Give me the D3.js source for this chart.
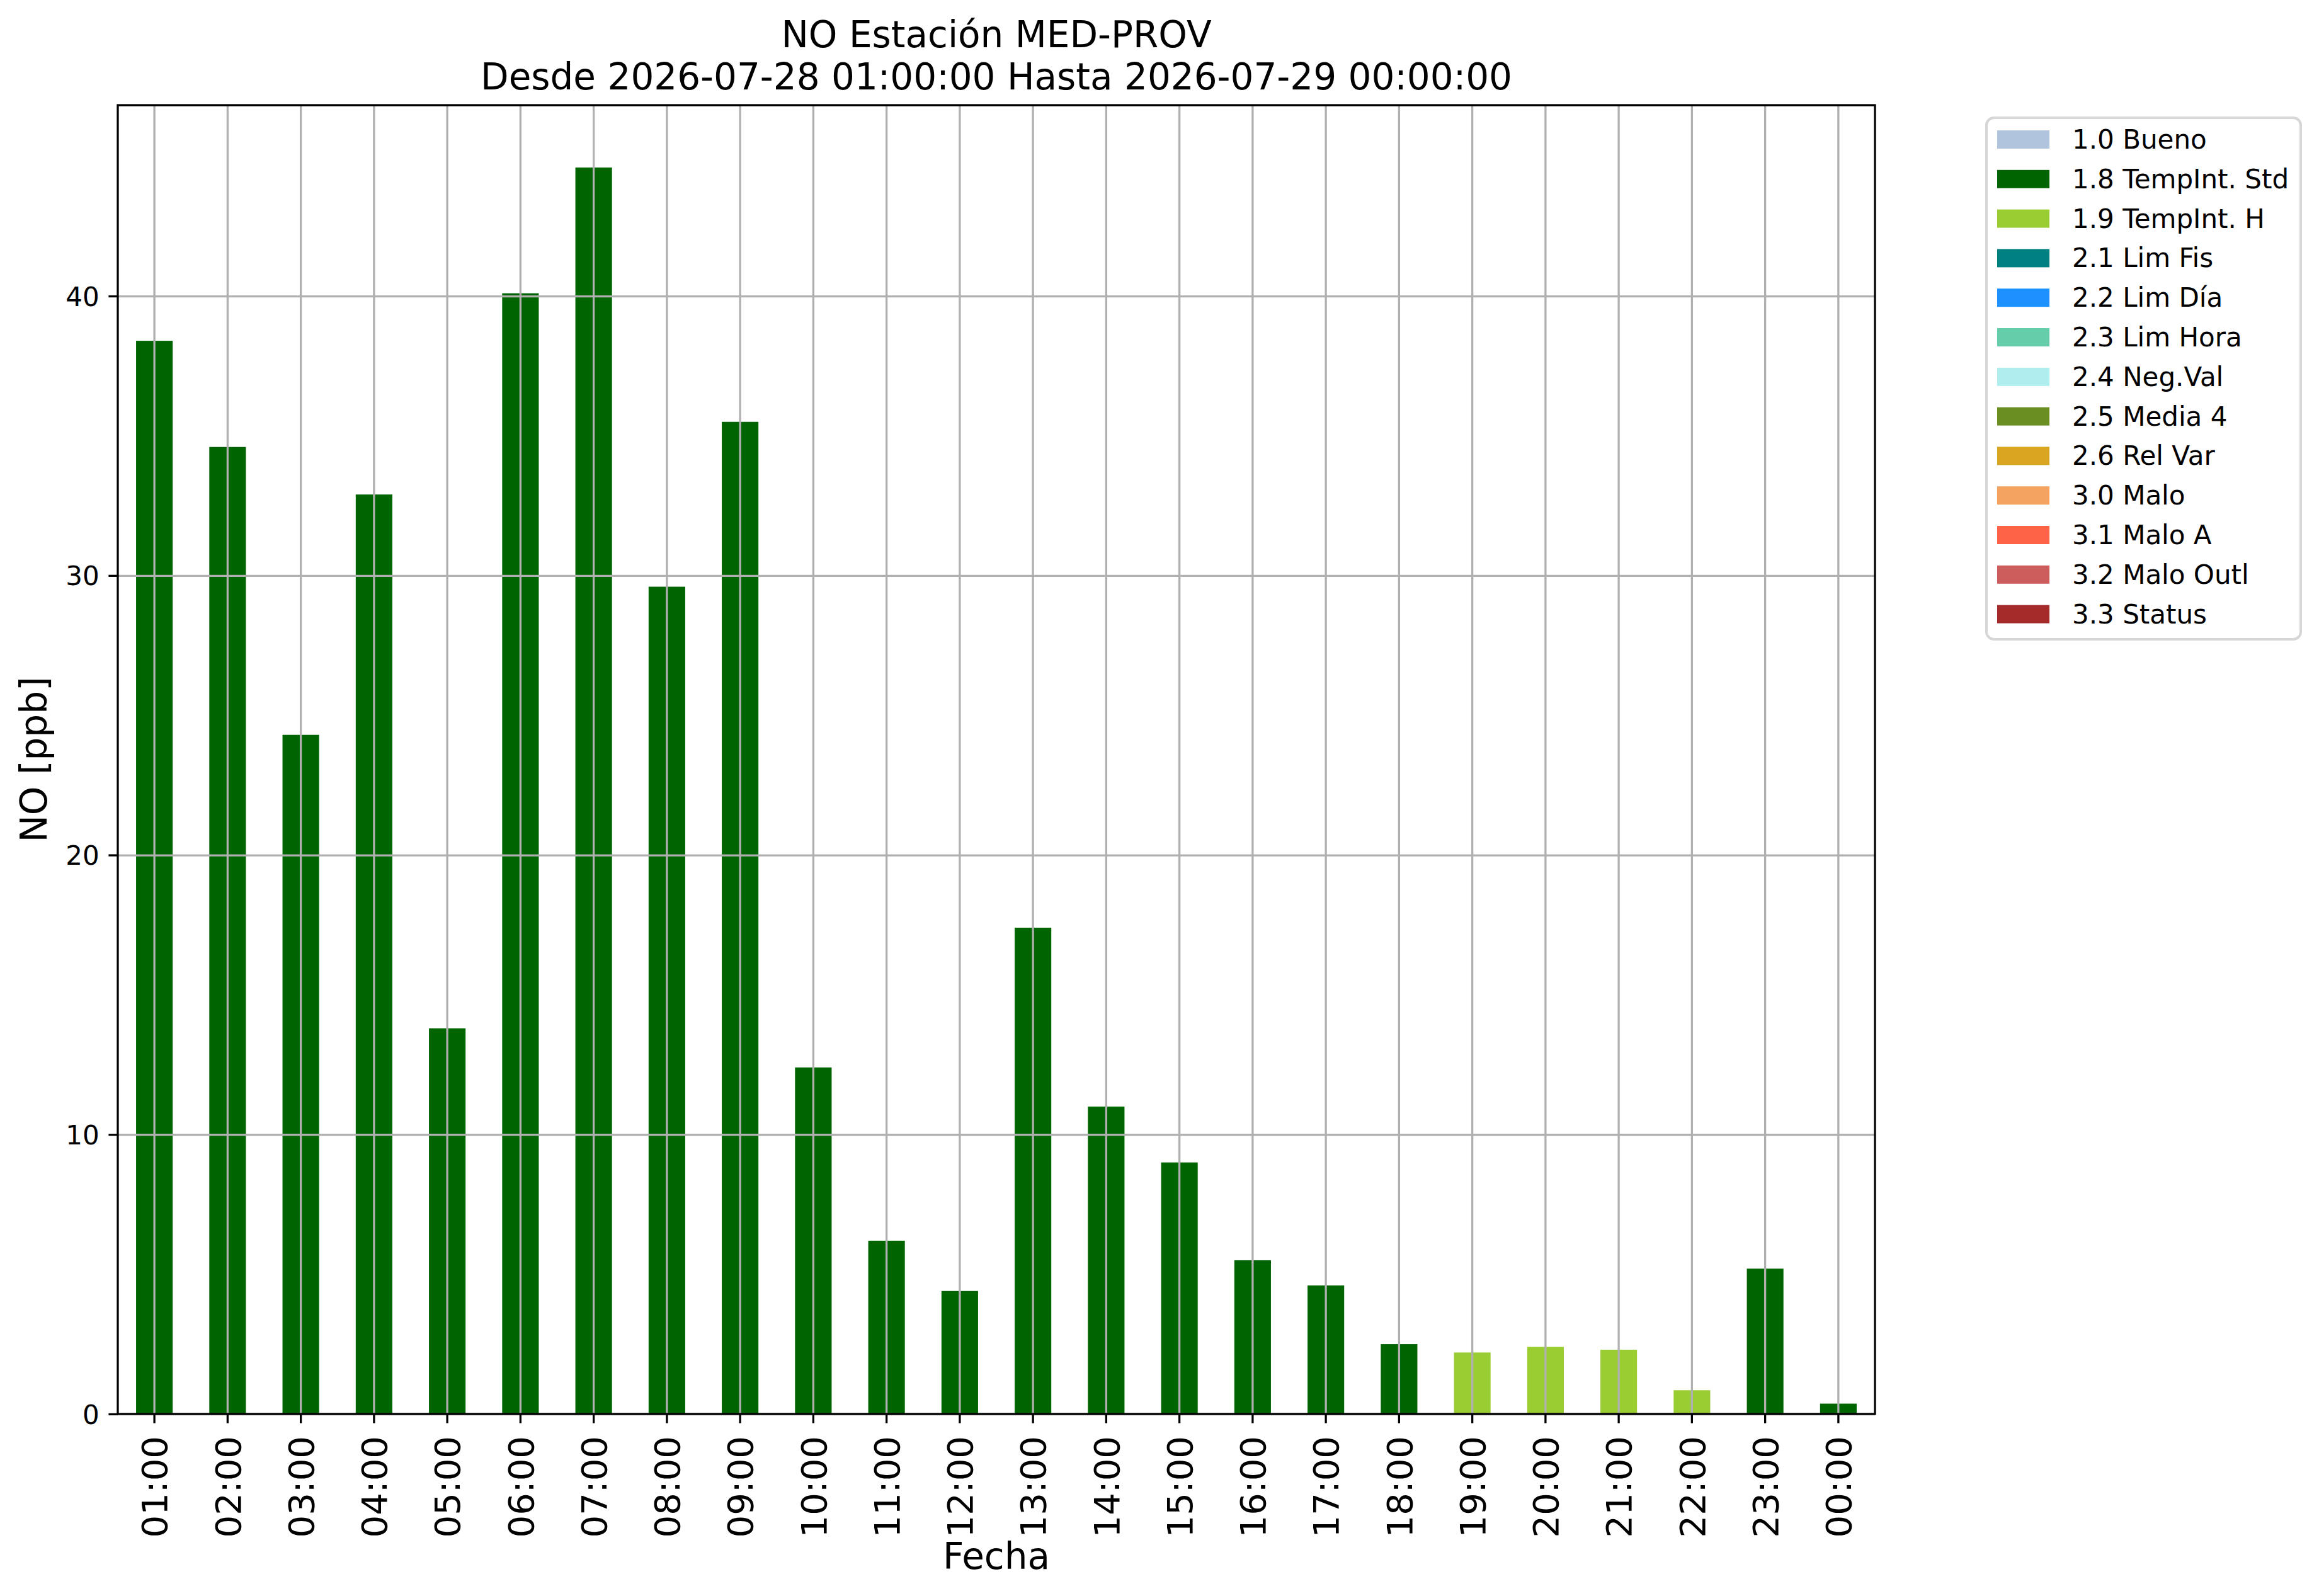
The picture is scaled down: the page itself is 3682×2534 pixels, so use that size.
<!DOCTYPE html>
<html>
<head>
<meta charset="utf-8">
<script src="https://cdn.jsdelivr.net/npm/d3@7"></script>
<style>
  body { margin: 0; background: #fff; }
  svg { display: block; font-family: "DejaVu Sans", sans-serif; }
</style>
</head>
<body>
<div id="svg-container"></div>
<script>
////////////////////////////////////////////////////////////////////
////////////////////////////  Data  ////////////////////////////////
const hours = ["01:00", "02:00", "03:00", "04:00", "05:00", "06:00", "07:00", "08:00",
  "09:00", "10:00", "11:00", "12:00", "13:00", "14:00", "15:00", "16:00",
  "17:00", "18:00", "19:00", "20:00", "21:00", "22:00", "23:00", "00:00"];

const values = [38.4, 34.6, 24.3, 32.9, 13.8, 40.1, 44.6, 29.6,
  35.5, 12.4, 6.2, 4.4, 17.4, 11.0, 9.0, 5.5,
  4.6, 2.5, 2.2, 2.4, 2.3, 0.85, 5.2, 0.37];

const flags = ["1.8", "1.8", "1.8", "1.8", "1.8", "1.8", "1.8", "1.8",
  "1.8", "1.8", "1.8", "1.8", "1.8", "1.8", "1.8", "1.8",
  "1.8", "1.8", "1.9", "1.9", "1.9", "1.9", "1.8", "1.8"];

const legendCodes = ["1.0", "1.8", "1.9", "2.1", "2.2", "2.3", "2.4", "2.5", "2.6", "3.0", "3.1", "3.2", "3.3"];
const legendNames = ["Bueno", "TempInt. Std", "TempInt. H", "Lim Fis", "Lim Día", "Lim Hora",
  "Neg.Val", "Media 4", "Rel Var", "Malo", "Malo A", "Malo Outl", "Status"];
const legendColors = ["lightsteelblue", "darkgreen", "yellowgreen", "teal", "dodgerblue",
  "mediumaquamarine", "paleturquoise", "olivedrab", "goldenrod", "sandybrown",
  "tomato", "indianred", "brown"];

const yTicks = [0, 10, 20, 30, 40];

////////////////////////////////////////////////////////////////////
////////////////////////////  Init  ////////////////////////////////
const width = 3682;
const height = 2534;
const margin = { top: 167, right: 705, bottom: 289, left: 187 };
const plotW = width - margin.left - margin.right;
const plotH = height - margin.top - margin.bottom;
const lw = 3.3;

const svg = d3.select("#svg-container").append("svg")
  .attr("width", width).attr("height", height);

svg.append("rect").attr("width", width).attr("height", height).attr("fill", "#fff");

const g = svg.append("g").attr("transform", `translate(${margin.left},${margin.top})`);

// scale
const xScale = d3.scaleBand()
  .domain(hours)
  .range([0, plotW])
  .paddingInner(0.5)
  .paddingOuter(0.25);

const yScale = d3.scaleLinear()
  .domain([0, d3.max(values) * 1.05])
  .range([plotH, 0]);

const colorScale = d3.scaleOrdinal().domain(legendCodes).range(legendColors);

////////////////////////////////////////////////////////////////////
////////////////////////////  Bars  ////////////////////////////////
const data = hours.map((h, i) => ({ hour: h, value: values[i], flag: flags[i] }));

g.selectAll(".bar")
  .data(data)
  .enter()
  .append("rect")
  .attr("class", "bar")
  .attr("x", (d) => xScale(d.hour))
  .attr("y", (d) => yScale(d.value))
  .attr("width", xScale.bandwidth())
  .attr("height", (d) => plotH - yScale(d.value))
  .attr("fill", (d) => colorScale(d.flag));

// grid (above bars, like matplotlib)
const xGrid = g.append("g")
  .call(d3.axisBottom(xScale).tickSize(plotH).tickFormat(""));
xGrid.selectAll(".tick line")
  .attr("y1", 0).attr("y2", plotH)
  .attr("stroke", "#b0b0b0").attr("stroke-width", lw);
xGrid.select(".domain").remove();

const yGrid = g.append("g")
  .call(d3.axisLeft(yScale).tickValues(yTicks).tickSize(-plotW).tickFormat(""));
yGrid.selectAll(".tick line").attr("stroke", "#b0b0b0").attr("stroke-width", lw);
yGrid.select(".domain").remove();

////////////////////////////////////////////////////////////////////
////////////////////////////  Axes  ////////////////////////////////
const yAxis = g.append("g")
  .call(d3.axisLeft(yScale).tickValues(yTicks).tickSize(14.6).tickPadding(14.6).tickFormat(d3.format("d")));
yAxis.select(".domain").remove();
yAxis.selectAll(".tick line").attr("stroke", "#000").attr("stroke-width", lw);
yAxis.selectAll(".tick text")
  .attr("font-size", 42)
  .attr("font-family", "DejaVu Sans")
  .attr("fill", "#000")
  .attr("dy", "0.36em");

const xAxis = g.append("g")
  .attr("transform", `translate(0,${plotH})`)
  .call(d3.axisBottom(xScale).tickSize(14.6));
xAxis.select(".domain").remove();
xAxis.selectAll(".tick line").attr("stroke", "#000").attr("stroke-width", lw);
xAxis.selectAll(".tick text")
  .attr("font-size", 56)
  .attr("font-family", "DejaVu Sans")
  .attr("fill", "#000")
  .attr("transform", "rotate(-90)")
  .attr("text-anchor", "end")
  .attr("x", -35)
  .attr("y", 0)
  .attr("dy", "0.36em");

// frame
g.append("rect")
  .attr("x", 0).attr("y", 0)
  .attr("width", plotW).attr("height", plotH)
  .attr("fill", "none")
  .attr("stroke", "#000")
  .attr("stroke-width", lw);

// labels
svg.append("text")
  .attr("x", margin.left + plotW / 2)
  .attr("y", 2491)
  .attr("text-anchor", "middle")
  .attr("font-size", 58)
  .text("Fecha");

svg.append("text")
  .attr("transform", `translate(74,${margin.top + plotH / 2}) rotate(-90)`)
  .attr("text-anchor", "middle")
  .attr("font-size", 58)
  .text("NO [ppb]");

const title = svg.append("text")
  .attr("text-anchor", "middle")
  .attr("font-size", 58);
title.append("tspan")
  .attr("x", margin.left + plotW / 2).attr("y", 75)
  .text("NO Estación MED-PROV");
title.append("tspan")
  .attr("x", margin.left + plotW / 2).attr("y", 142)
  .text("Desde 2026-07-28 01:00:00 Hasta 2026-07-29 00:00:00");

////////////////////////////////////////////////////////////////////
////////////////////////////  Legend  //////////////////////////////
const legend = svg.append("g").attr("transform", "translate(3154,187)");

legend.append("rect")
  .attr("x", 0).attr("y", 0)
  .attr("width", 499).attr("height", 828)
  .attr("rx", 12).attr("ry", 12)
  .attr("fill", "#fff")
  .attr("stroke", "#d6d6d6")
  .attr("stroke-width", 4);

const rows = legend.selectAll(".legend-row")
  .data(legendCodes)
  .enter()
  .append("g")
  .attr("class", "legend-row")
  .attr("transform", (d, i) => `translate(0,${20 + i * 62.8})`);

rows.append("rect")
  .attr("x", 17).attr("y", 0)
  .attr("width", 83).attr("height", 29)
  .attr("fill", (d) => colorScale(d));

rows.append("text")
  .attr("x", 136).attr("y", 29)
  .attr("font-size", 42)
  .text((d, i) => d + " " + legendNames[i]);
</script>
</body>
</html>
